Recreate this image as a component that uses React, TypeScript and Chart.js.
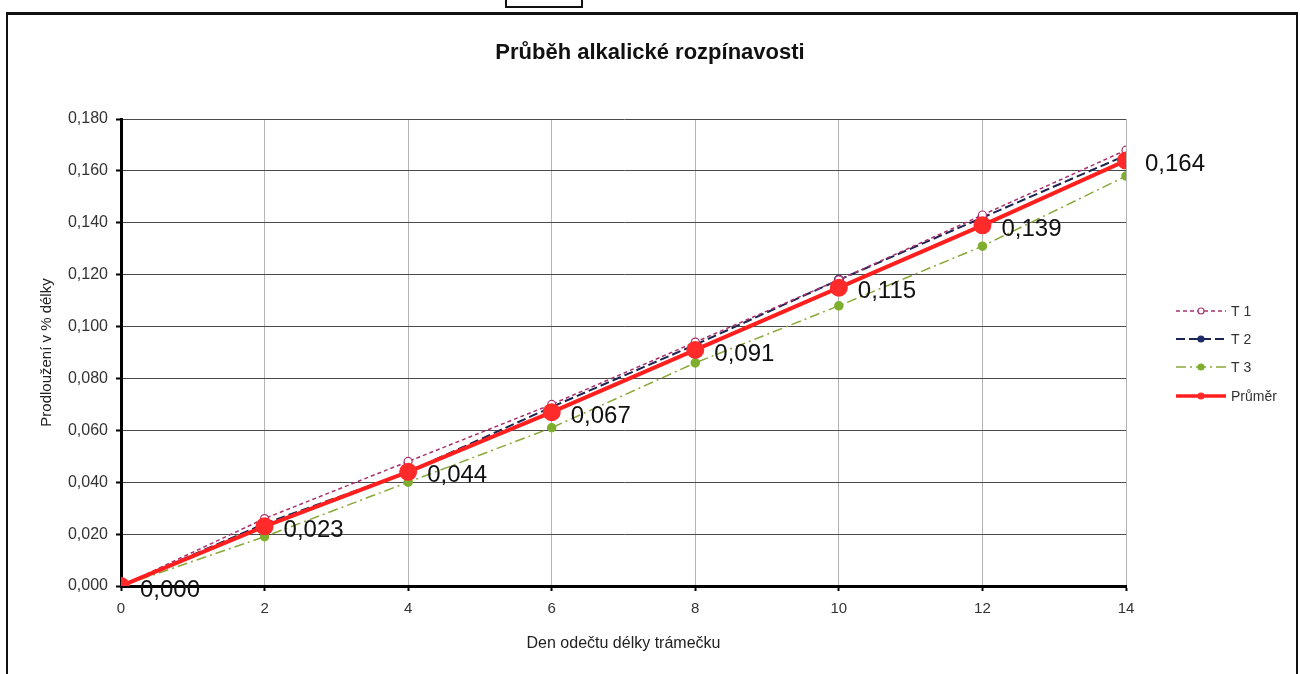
import React, { useEffect, useRef } from "react";
import { Chart, registerables } from "chart.js";
Chart.register(...registerables);

const days = [0, 2, 4, 6, 8, 10, 12, 14];
const t1Values = [0, 0.026, 0.048, 0.07, 0.094, 0.118, 0.143, 0.168];
const t2Values = [0, 0.024, 0.044, 0.069, 0.093, 0.118, 0.142, 0.166];
const t3Values = [0, 0.019, 0.04, 0.061, 0.086, 0.108, 0.131, 0.158];
const meanValues = [0, 0.023, 0.044, 0.067, 0.091, 0.115, 0.139, 0.164];
const seriesLabels = ["T 1", "T 2", "T 3", "Průměr"];
const chartTitle = "Průběh alkalické rozpínavosti";
const xTitle = "Den odečtu délky trámečku";
const yTitle = "Prodloužení v % délky";

const fmt = (v: number) => v.toFixed(3).replace(".", ",");
const FONT = "'Liberation Sans', Arial, sans-serif";

export default function App() {
  const ref = useRef<HTMLCanvasElement>(null);
  useEffect(() => {
    const toPts = (vals: number[]) => days.map((d, i) => ({ x: d, y: vals[i] }));
    const datasets: any[] = [
      {
        label: seriesLabels[0],
        data: toPts(t1Values),
        borderColor: "#a8306e",
        borderWidth: 1.5,
        borderDash: [4, 3],
        pointRadius: 4,
        pointBorderWidth: 1.2,
        pointBackgroundColor: "#ffffff",
        pointBorderColor: "#a8306e",
        order: 1,
      },
      {
        label: seriesLabels[1],
        data: toPts(t2Values),
        borderColor: "#1c2450",
        borderWidth: 2,
        borderDash: [9, 4],
        pointRadius: 4,
        pointBackgroundColor: "#1c2a6a",
        pointBorderColor: "#1c2a6a",
        order: 2,
      },
      {
        label: seriesLabels[2],
        data: toPts(t3Values),
        borderColor: "#8aa83a",
        borderWidth: 1.5,
        borderDash: [10, 4, 2, 4],
        pointRadius: 4,
        pointBackgroundColor: "#7fae2e",
        pointBorderColor: "#7fae2e",
        order: 3,
      },
      {
        label: seriesLabels[3],
        data: toPts(meanValues),
        borderColor: "#ff1f1f",
        borderWidth: 4,
        pointRadius: 7,
        pointBackgroundColor: "#ff2a2a",
        pointBorderColor: "#ff2a2a",
        order: 0,
      },
    ];

    const overlay = {
      id: "overlay",
      afterDraw(chart: any) {
        const ctx = chart.ctx;
        ctx.save();
        // title
        ctx.fillStyle = "#111";
        ctx.font = `bold 22px ${FONT}`;
        ctx.textAlign = "center";
        ctx.textBaseline = "middle";
        ctx.fillText(chartTitle, 650, 53);
        // data labels for mean
        const meta = chart.getDatasetMeta(3);
        ctx.font = `24px ${FONT}`;
        ctx.textAlign = "left";
        ctx.fillStyle = "#111";
        meta.data.forEach((pt: any, i: number) => {
          ctx.fillText(fmt(meanValues[i]), pt.x + 19, pt.y + 4);
        });
        // legend
        const ys = [311, 339, 367, 396];
        const order = [0, 1, 2, 3];
        order.forEach((di, k) => {
          const ds = chart.data.datasets[di];
          const y = ys[k];
          ctx.save();
          ctx.strokeStyle = ds.borderColor;
          ctx.lineWidth = di === 3 ? 3.5 : ds.borderWidth;
          ctx.setLineDash(ds.borderDash || []);
          ctx.beginPath();
          ctx.moveTo(1176, y);
          ctx.lineTo(1226, y);
          ctx.stroke();
          ctx.setLineDash([]);
          ctx.beginPath();
          ctx.arc(1201, y, 3, 0, Math.PI * 2);
          ctx.fillStyle = ds.pointBackgroundColor;
          ctx.fill();
          ctx.strokeStyle = ds.pointBorderColor;
          ctx.lineWidth = 1.2;
          ctx.stroke();
          ctx.restore();
          ctx.fillStyle = "#333";
          ctx.font = `14px ${FONT}`;
          ctx.textAlign = "left";
          ctx.textBaseline = "middle";
          ctx.fillText(ds.label, 1231, y + 1);
        });
        ctx.restore();
      },
    };

    const chart = new Chart(ref.current!, {
      type: "line",
      data: { datasets },
      options: {
        animation: false,
        responsive: false,
        devicePixelRatio: 1,
        layout: { padding: { left: 0, top: 119, right: 174, bottom: 18 } },
        plugins: { legend: { display: false }, tooltip: { enabled: false }, title: { display: false } },
        scales: {
          x: {
            type: "linear",
            min: 0,
            max: 14,
            afterFit: (s: any) => {
              s.height = 70;
            },
            ticks: {
              stepSize: 2,
              color: "#333",
              font: { family: FONT, size: 15 },
              padding: 9,
            },
            grid: { color: "#b4b4b4", lineWidth: 1, tickColor: "#000", tickLength: 5, tickWidth: 2 },
            border: { color: "#000", width: 3 },
            title: {
              display: true,
              text: xTitle,
              color: "#222",
              font: { family: FONT, size: 16 },
              padding: { top: 0, bottom: 3 },
            },
          },
          y: {
            min: 0,
            max: 0.18,
            afterFit: (s: any) => {
              s.width = 121;
            },
            ticks: {
              stepSize: 0.02,
              color: "#333",
              font: { family: FONT, size: 16 },
              padding: 8,
              callback: (v: any) => fmt(Number(v)),
            },
            grid: { color: "#4a4a4a", lineWidth: 1, tickColor: "#000", tickLength: 5, tickWidth: 2 },
            border: { color: "#000", width: 3 },
            title: {
              display: true,
              text: yTitle,
              color: "#222",
              font: { family: FONT, size: 15 },
              padding: { top: 38, bottom: 0 },
            },
          },
        },
      },
      plugins: [overlay],
    } as any);
    return () => chart.destroy();
  }, []);

  return (
    <div
      style={{
        position: "absolute",
        left: 0,
        top: 0,
        width: 1300,
        height: 674,
        overflow: "hidden",
        background: "#fff",
      }}
    >
      <div
        style={{
          position: "absolute",
          left: 505,
          top: -4,
          width: 78,
          height: 12,
          border: "2px solid #111",
          boxSizing: "border-box",
        }}
      />
      <div
        style={{
          position: "absolute",
          left: 6,
          top: 12,
          width: 1292,
          height: 700,
          borderLeft: "2px solid #111",
          borderTop: "3px solid #111",
          borderRight: "2px solid #111",
          boxSizing: "border-box",
        }}
      />
      <canvas ref={ref} width={1300} height={674} style={{ position: "absolute", left: 0, top: 0 }} />
    </div>
  );
}
